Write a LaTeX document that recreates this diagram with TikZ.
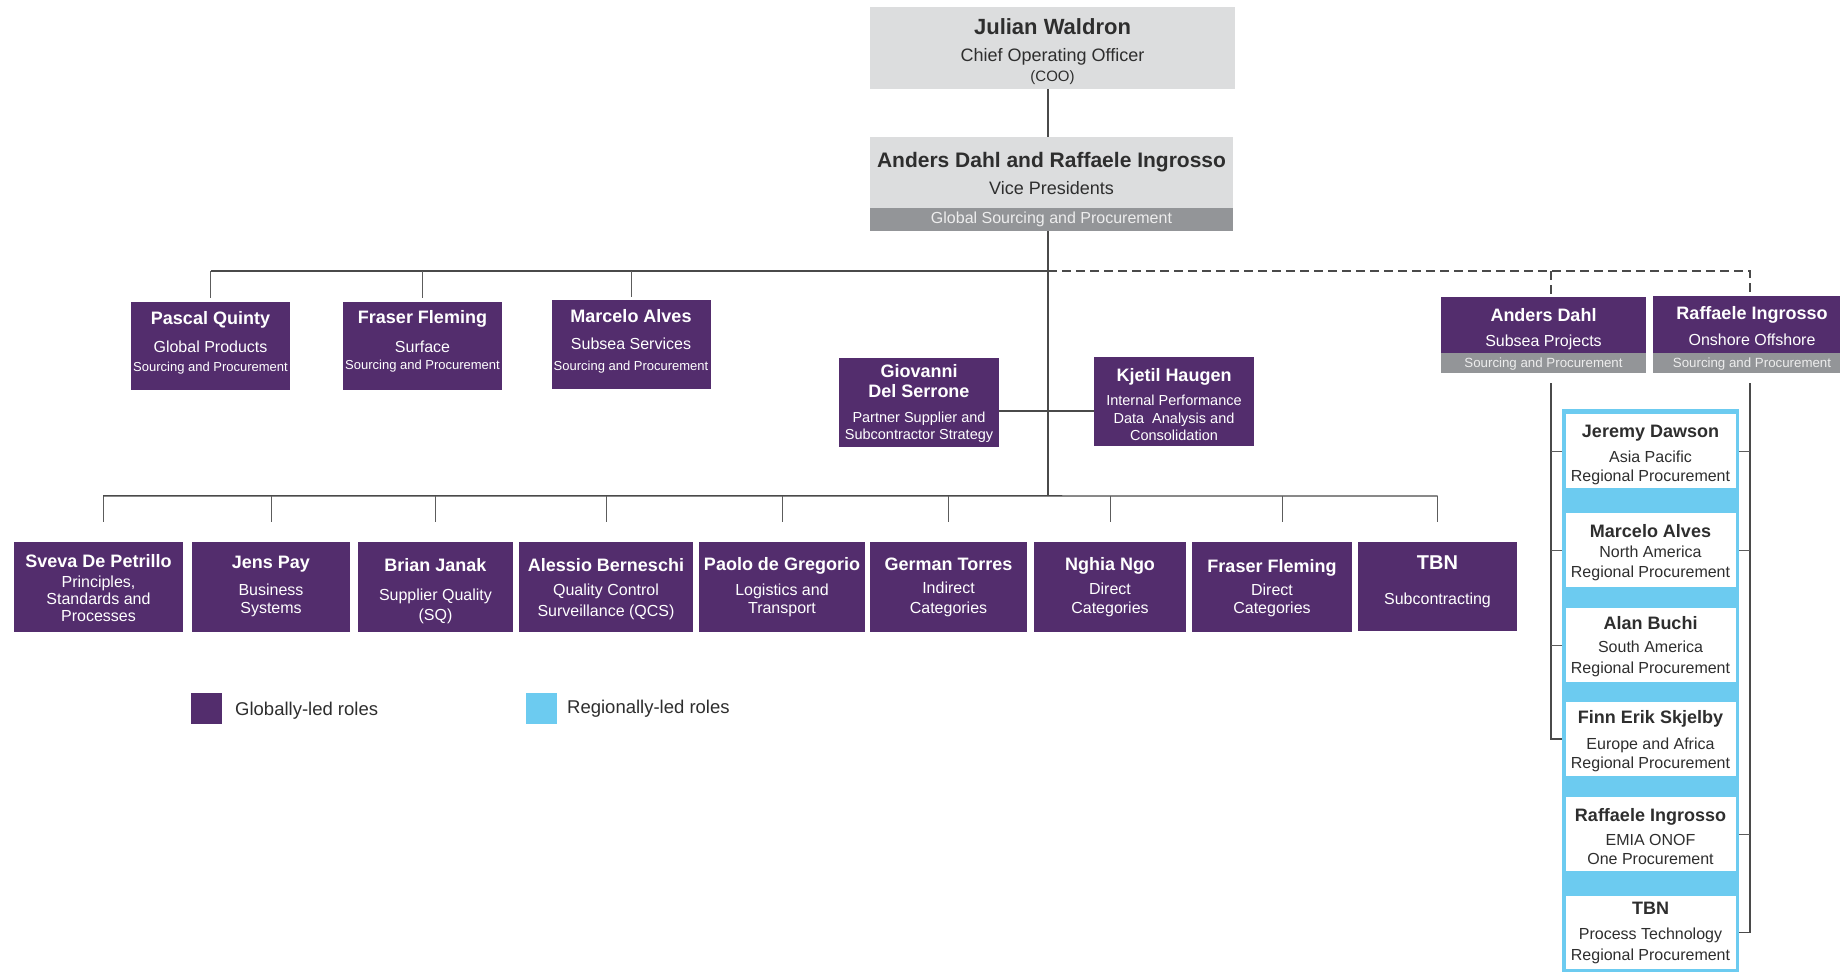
\documentclass[tikz,border=0pt]{standalone}
\usepackage{fontspec}
\setmainfont{Liberation Sans}
\definecolor{gpurple}{HTML}{532D6D}
\definecolor{rblue}{HTML}{6CCBF0}
\definecolor{lightgrey}{HTML}{DCDDDE}
\definecolor{bargrey}{HTML}{939598}
\definecolor{linegrey}{HTML}{4A4A4A}
\definecolor{inkgrey}{HTML}{2E2E2E}
\def\boxfont#1{\fontsize{#1pt}{0pt}\selectfont\lineskiplimit=-100pt}
\def\who#1#2{{\fontsize{#1pt}{0pt}\selectfont\bfseries #2}}
\def\sm#1#2{{\fontsize{#1pt}{0pt}\selectfont #2}}
\tikzset{
  coobox/.style={fill=lightgrey, text=inkgrey, inner sep=0pt, align=center, anchor=base, font=\boxfont{18}},
  barbox/.style={fill=bargrey, text=white!93!black, inner sep=0pt, align=center, anchor=base},
  gbox/.style={fill=gpurple, text=white, inner sep=0pt, align=center, anchor=base, font=\boxfont{16}},
  regbox/.style={fill=white, text=inkgrey, inner sep=0pt, align=center, anchor=base, minimum width=170pt, font=\boxfont{16}},
  legsq/.style={minimum size=31pt, inner sep=0pt},
  link/.style={draw=linegrey, line width=1.4pt},
  thin/.style={draw=linegrey!90!white, line width=0.9pt},
  dashlink/.style={draw=linegrey, line width=1.6pt, dash pattern=on 9pt off 5pt}
}
\begin{document}
\begin{tikzpicture}[x=1pt, y=-1pt]
	%%%%% FRAME %%%%%
	\useasboundingbox (0,0) rectangle (1840,972);
	\fill[white] (0,0) rectangle (1840,972);
	\clip (0,0) rectangle (1840,972);
	
	\coordinate (spine) at (1048,0);
	\coordinate (busA) at (1048,271);
	\coordinate (busB) at (1048,496);
	\coordinate (midline) at (1048,411);
	\coordinate (railL) at (1551,271);
	\coordinate (railR) at (1750,271);
	
	%%%%% TOP %%%%%
	\node[coobox, minimum width=365pt, text height=74pt, text depth=8pt] (coo) at (1052.5,81)
		{\who{22}{Julian Waldron}\\[27pt]Chief Operating Officer\\[20pt]\sm{15}{(COO)}};
	\node[coobox, minimum width=363pt, text height=57pt, text depth=14pt] (vp) at (1051.5,194)
		{\who{21}{Anders Dahl and Raffaele Ingrosso}\\[27pt]Vice Presidents};
	\node[barbox, minimum width=363pt, text height=15pt, text depth=8pt, font=\boxfont{16}] (vpbar) at (1051.5,223)
		{Global Sourcing and Procurement};
	
	%%%%% GLOBAL CATEGORIES %%%%%
	\node[gbox, minimum width=159pt, text height=69pt, text depth=19pt] (pascal) at (210.5,371)
		{\who{18}{Pascal Quinty}\\[28pt]Global Products\\[19pt]\sm{13}{Sourcing and Procurement}};
	\node[gbox, minimum width=159pt, text height=67pt, text depth=21pt] (fraserA) at (422.5,369)
		{\who{18}{Fraser Fleming}\\[29pt]Surface\\[17pt]\sm{13}{Sourcing and Procurement}};
	\node[gbox, minimum width=159pt, text height=70pt, text depth=19pt] (marcelo) at (631,370)
		{\who{18}{Marcelo Alves}\\[27pt]Subsea Services\\[21pt]\sm{13}{Sourcing and Procurement}};
	
	\node[gbox, minimum width=160pt, text height=81pt, text depth=8pt, font=\boxfont{14.5}] (giovanni) at (919,439)
		{\who{18}{Giovanni}\\[20pt]\who{18}{Del Serrone}\\[25pt]Partner Supplier and\\[17pt]Subcontractor Strategy};
	\node[gbox, minimum width=160pt, text height=83pt, text depth=6pt, font=\boxfont{14.5}] (kjetil) at (1174,440)
		{\who{18}{Kjetil Haugen}\\[24pt]Internal Performance\\[18pt]Data~ Analysis and\\[17pt]Consolidation};
	
	%%%%% PROJECTS %%%%%
	\node[gbox, minimum width=205pt, text height=49pt, text depth=7pt] (anders) at (1543.5,346)
		{\who{18}{Anders Dahl}\\[25pt]Subsea Projects};
	\node[barbox, minimum width=205pt, text height=14pt, text depth=6pt, font=\boxfont{13.3}] (andersbar) at (1543.5,367)
		{Sourcing and Procurement};
	\node[gbox, minimum width=198pt, text height=49pt, text depth=8pt] (raffaele) at (1752,345)
		{\who{18}{Raffaele Ingrosso}\\[26pt]Onshore Offshore};
	\node[barbox, minimum width=198pt, text height=14pt, text depth=6pt, font=\boxfont{13.3}] (raffbar) at (1752,367)
		{Sourcing and Procurement};
	
	%%%%% FUNCTIONS %%%%%
	\node[gbox, minimum width=169pt, text height=79pt, text depth=11pt] (sveva) at (98.5,621)
		{\who{18}{Sveva De Petrillo}\\[20pt]Principles,\\[17pt]Standards and\\[17pt]Processes};
	\node[gbox, minimum width=158pt, text height=71pt, text depth=19pt] (jens) at (271,613)
		{\who{18}{Jens Pay}\\[27pt]Business\\[18pt]Systems};
	\node[gbox, minimum width=155pt, text height=78pt, text depth=12pt] (brian) at (435.5,620)
		{\who{18}{Brian Janak}\\[29pt]Supplier Quality\\[20pt](SQ)};
	\node[gbox, minimum width=174pt, text height=74pt, text depth=16pt] (alessio) at (606,616)
		{\who{18}{Alessio Berneschi}\\[24pt]Quality Control\\[21pt]Surveillance (QCS)};
	\node[gbox, minimum width=166pt, text height=71pt, text depth=19pt] (paolo) at (782,613)
		{\who{18}{Paolo de Gregorio}\\[25pt]Logistics and\\[18pt]Transport};
	\node[gbox, minimum width=157pt, text height=71pt, text depth=19pt] (german) at (948.5,613)
		{\who{18}{German Torres}\\[23pt]Indirect\\[20pt]Categories};
	\node[gbox, minimum width=152pt, text height=71pt, text depth=19pt] (nghia) at (1110,613)
		{\who{18}{Nghia Ngo}\\[24pt]Direct\\[19pt]Categories};
	\node[gbox, minimum width=160pt, text height=71pt, text depth=19pt] (fraserB) at (1272,613)
		{\who{18}{Fraser Fleming}\\[23pt]Direct\\[18pt]Categories};
	\node[gbox, minimum width=159pt, text height=62pt, text depth=27pt] (tbn) at (1437.5,604)
		{\who{20}{TBN}\\[35pt]Subcontracting};
	
	%%%%% REGIONS %%%%%
	\node[fill=rblue, minimum width=177pt, minimum height=566pt, inner sep=0pt, anchor=north west] (panel) at (1562,409) {};
	\node[regbox, text height=67pt, text depth=7pt] (jeremy) at (1650.5,481)
		{\who{18}{Jeremy Dawson}\\[25pt]Asia Pacific\\[19pt]Regional Procurement};
	\node[regbox, text height=64pt, text depth=10pt] (marceloreg) at (1650.5,577)
		{\who{18}{Marcelo Alves}\\[20pt]North America\\[20pt]Regional Procurement};
	\node[regbox, text height=65pt, text depth=9pt] (alan) at (1650.5,673)
		{\who{18}{Alan Buchi}\\[23pt]South America\\[21pt]Regional Procurement};
	\node[regbox, text height=66pt, text depth=8pt] (finn) at (1650.5,768)
		{\who{18}{Finn Erik Skjelby}\\[26pt]Europe and Africa\\[19pt]Regional Procurement};
	\node[regbox, text height=67pt, text depth=7pt] (raffreg) at (1650.5,864)
		{\who{18}{Raffaele Ingrosso}\\[24pt]EMIA ONOF\\[19pt]One Procurement};
	\node[regbox, text height=64pt, text depth=9pt] (tbnreg) at (1650.5,960)
		{\who{18}{TBN}\\[25pt]Process Technology\\[21pt]Regional Procurement};
	
	%%%%% LEGEND %%%%%
	\node[legsq, fill=gpurple] (legglobal) at (206.5,708.5) {};
	\node[anchor=base west, inner sep=0pt, text=inkgrey, font=\boxfont{18.5}] (legglobaltext) at (235,715) {Globally-led roles};
	\node[legsq, fill=rblue] (legregional) at (541.5,708.5) {};
	\node[anchor=base west, inner sep=0pt, text=inkgrey, font=\boxfont{18.5}] (legregionaltext) at (567,713) {Regionally-led roles};
	
	%%%%% LINKS %%%%%
	\draw[link] (coo.south -| spine) -- (vp.north -| spine);
	\draw[link] (vpbar.south -| spine) -- (spine |- busB);
	
	\draw[link] (pascal.north |- busA) -- (busA);
	\draw[thin, shorten >=4pt] (pascal.north |- busA) -- (pascal.north);
	\draw[thin, shorten >=4pt] (fraserA.north |- busA) -- (fraserA.north);
	\draw[thin, shorten >=3pt] (marcelo.north |- busA) -- (marcelo.north);
	
	\draw[link] (giovanni.east |- midline) -- (kjetil.west |- midline);
	
	\draw[thin] ([xshift=4.5pt, yshift=20pt]sveva.north) -- ++(0,-26) coordinate (busBleft);
	\draw[link] (busBleft) -- (tbn.north |- busB);
	\draw[thin, shorten >=20pt] (jens.north |- busB) -- (jens.north);
	\draw[thin, shorten >=20pt] (brian.north |- busB) -- (brian.north);
	\draw[thin, shorten >=20pt] (alessio.north |- busB) -- (alessio.north);
	\draw[thin, shorten >=20pt] (paolo.north |- busB) -- (paolo.north);
	\draw[thin, shorten >=20pt] (german.north |- busB) -- (german.north);
	\draw[thin, shorten >=20pt] (nghia.north |- busB) -- (nghia.north);
	\draw[thin] ([xshift=10pt, yshift=20pt]fraserB.north) -- ++(0,-26);
	\draw[thin, shorten >=20pt] (tbn.north |- busB) -- (tbn.north);
	
	\draw[dashlink] (busA) -- (railR) -- (railR |- raffaele.north);
	\draw[dashlink] (railL) -- (railL |- anders.north);
	
	\draw[link, shorten <=10pt] (railL |- andersbar.south) -- (railL |- finn) -- (panel.west |- finn);
	\draw[thin] (railL |- jeremy) -- (panel.west |- jeremy);
	\draw[thin] (railL |- marceloreg) -- (panel.west |- marceloreg);
	\draw[thin] (railL |- alan) -- (panel.west |- alan);
	\draw[link, shorten <=10pt] (railR |- raffbar.south) -- (railR |- tbnreg) -- (panel.east |- tbnreg);
	\draw[thin] (railR |- jeremy) -- (panel.east |- jeremy);
	\draw[thin] (railR |- marceloreg) -- (panel.east |- marceloreg);
	\draw[thin] (railR |- raffreg) -- (panel.east |- raffreg);
\end{tikzpicture}
\end{document}
